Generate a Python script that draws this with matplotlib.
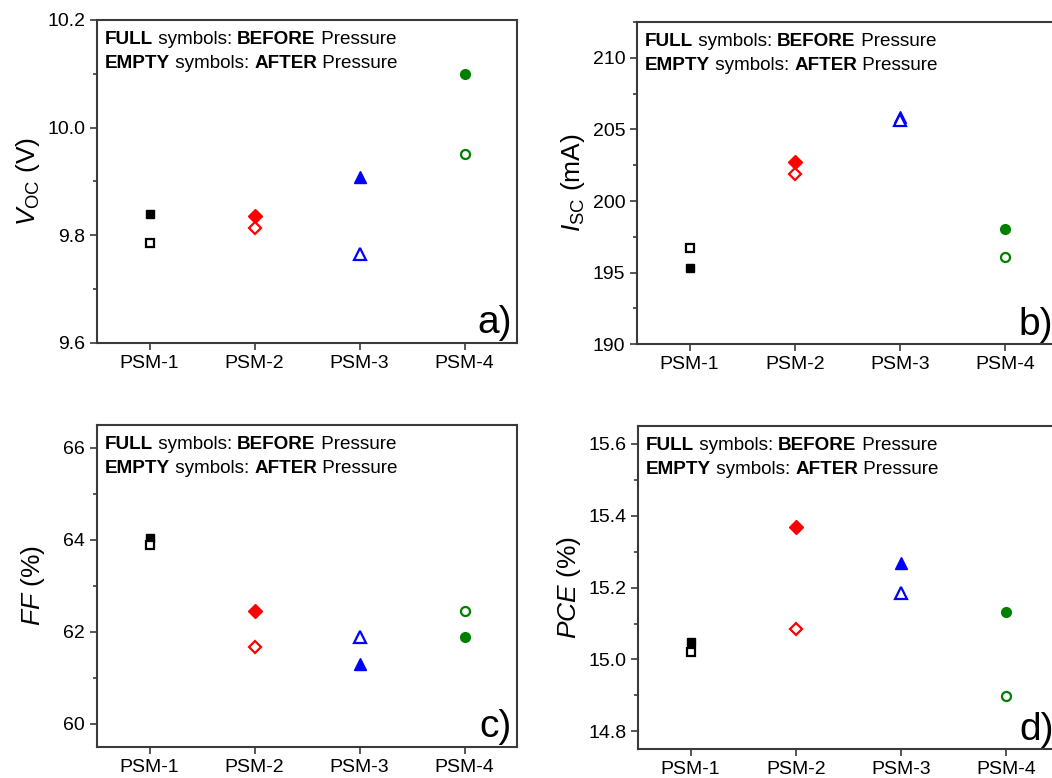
import matplotlib
matplotlib.use('Agg')
import matplotlib.pyplot as plt
from matplotlib.ticker import MultipleLocator, FormatStrFormatter

plt.rcParams['font.family'] = ['Liberation Sans', 'DejaVu Sans']
plt.rcParams['mathtext.fontset'] = 'custom'
plt.rcParams['mathtext.it'] = 'Liberation Sans:italic'
plt.rcParams['mathtext.rm'] = 'Liberation Sans'

samples = ['PSM-1', 'PSM-2', 'PSM-3', 'PSM-4']
colors = ['black', 'red', 'blue', 'green']
markers = ['s', 'D', '^', 'o']
msizes = [6, 7, 8.5, 7]

voc_before = [9.840, 9.836, 9.909, 10.099]
voc_after = [9.785, 9.813, 9.765, 9.952]
isc_before = [195.35, 202.7, 205.85, 198.05]
isc_after = [196.7, 201.9, 205.65, 196.1]
ff_before = [64.05, 62.45, 61.31, 61.89]
ff_after = [63.88, 61.67, 61.89, 62.46]
pce_before = [15.048, 15.370, 15.269, 15.133]
pce_after = [15.022, 15.085, 15.184, 14.899]

fig = plt.figure(figsize=(10.52, 7.78), dpi=100)
W, H = 1052.0, 778.0


def add_axes(left, top, right, bottom):
    return fig.add_axes([left / W, 1 - bottom / H, (right - left) / W, (bottom - top) / H])


panels = [
    (add_axes(97, 20, 517, 343), voc_before, voc_after, (9.6, 10.2), 0.2, 0.1, '%.1f', 'a)'),
    (add_axes(637, 22, 1058, 344.3), isc_before, isc_after, (190, 212.5), 5, 2.5, '%d', 'b)'),
    (add_axes(97, 425, 517, 746.7), ff_before, ff_after, (59.5, 66.5), 2, 1, '%d', 'c)'),
    (add_axes(638, 426, 1059, 749.3), pce_before, pce_after, (14.75, 15.65), 0.2, 0.1, '%.1f', 'd)'),
]
ylabels = [r'$V_{\mathrm{OC}}$ (V)', r'$I_{\mathrm{SC}}$ (mA)', r'$FF$ (%)', r'$PCE$ (%)']
labelpads = [4, 4, 12, 4]

notes = [
    [('FULL', 'bold'), (' symbols: ', 'normal'), ('BEFORE', 'bold'), (' Pressure', 'normal')],
    [('EMPTY', 'bold'), (' symbols: ', 'normal'), ('AFTER', 'bold'), (' Pressure', 'normal')],
]

axcol = '#3a3a3a'
for (ax, before, after, ylim, major, minor, fmt, letter), ylab, pad in zip(panels, ylabels, labelpads):
    x = list(range(1, len(samples) + 1))
    for i in range(len(samples)):
        ax.plot(x[i], before[i], linestyle='none', marker=markers[i], ms=msizes[i],
                color=colors[i], mec=colors[i])
        ax.plot(x[i], after[i], linestyle='none', marker=markers[i], ms=msizes[i] - 0.5,
                mfc='white', mec=colors[i], mew=1.6)
    ax.set_xlim(0.5, 4.5)
    ax.set_ylim(*ylim)
    ax.set_xticks(x)
    ax.set_xticklabels(samples, fontsize=14)
    ax.yaxis.set_major_locator(MultipleLocator(major))
    ax.yaxis.set_minor_locator(MultipleLocator(minor))
    ax.yaxis.set_major_formatter(FormatStrFormatter(fmt))
    ax.tick_params(axis='y', labelsize=14)
    ax.tick_params(which='both', direction='out', top=False, right=False, color=axcol, width=1.2)
    ax.tick_params(which='major', length=5)
    ax.tick_params(which='minor', length=3)
    for s in ax.spines.values():
        s.set_color(axcol)
        s.set_linewidth(1.5)
    ax.set_ylabel(ylab, fontsize=19, labelpad=pad)

    # note with mixed bold/normal pieces, chained one after another
    for row, pieces in enumerate(notes):
        prev = None
        for txt, wt in pieces:
            if prev is None:
                prev = ax.text(0.018, 0.926 - row * 0.075, txt, transform=ax.transAxes,
                               fontsize=13.6, fontweight=wt, ha='left', va='baseline')
            else:
                prev = ax.annotate(txt, xy=(1, 0), xycoords=prev, fontsize=13.6, fontweight=wt,
                                   ha='left', va='bottom')

    ax.text(0.988, 0.03, letter, transform=ax.transAxes, fontsize=28, ha='right', va='baseline')

fig.savefig('out.png', dpi=100)
